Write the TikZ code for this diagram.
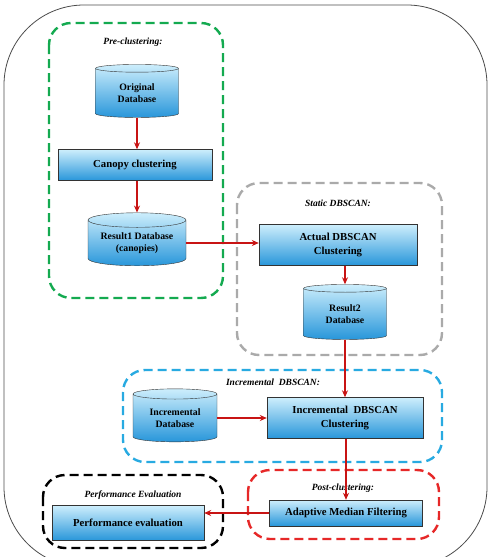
\documentclass[tikz,border=0pt]{standalone}
\usepackage{fontspec}
\setmainfont{Liberation Serif}
\usetikzlibrary{shapes.geometric,arrows.meta,positioning}

\definecolor{boxtop}{RGB}{205,238,252}
\definecolor{boxbot}{RGB}{40,150,218}
\definecolor{flowred}{RGB}{200,20,20}
\definecolor{framegreen}{RGB}{20,170,80}
\definecolor{frameblue}{RGB}{40,170,225}
\definecolor{framered}{RGB}{230,40,40}
\definecolor{framegray}{RGB}{170,170,170}

\begin{document}
\begin{tikzpicture}[
    x=1pt, y=-1pt,
    procbox/.style={rectangle, draw=black!80, top color=boxtop, bottom color=boxbot, align=center, inner sep=0pt, font=\fontsize{10.7}{14}\selectfont\bfseries},
    dbcyl/.style={cylinder, shape border rotate=90, aspect=0.2, draw=black!80, top color=boxtop, bottom color=boxbot, align=center, inner sep=0pt, font=\fontsize{9.8}{12.5}\selectfont\bfseries},
    grplabel/.style={font=\fontsize{9.5}{11}\selectfont\bfseries\itshape},
    grpframe/.style={dash pattern=on 9pt off 5pt, line width=2.4pt, rounded corners=22pt},
    flow/.style={draw=flowred, line width=1.2pt, -{Stealth[length=7pt,width=6pt]}}
  ]
    \useasboundingbox (0,0) rectangle (490,557);

    % Outer frame
    \begin{scope}
      \clip (0,0) rectangle (490,557);
      \draw[black!70, line width=0.8pt, rounded corners=80pt] (4,5) rectangle (487,567);
    \end{scope}

    % Stage frames
    \draw[grpframe, framegreen] (49,23) rectangle (223,298);
    \draw[grpframe, framegray] (237,183) rectangle (442,355);
    \draw[grpframe, frameblue] (123,370) rectangle (442,462);
    \draw[grpframe, framered] (248,470) rectangle (439,539);
    \draw[grpframe, black] (43,475) rectangle (223,548);

    \node[grplabel] (lpre) at (133,42) {Pre-clustering:};
    \node[grplabel] (lstat) at (338,203) {Static DBSCAN:};
    \node[grplabel] (linc) at (273,382) {Incremental\ \ DBSCAN:};
    \node[grplabel] (lpost) at (343,488) {Post-clustering:};
    \node[grplabel] (lperf) at (133,495) {Performance Evaluation};

    % Components
    \node[dbcyl, minimum width=83pt, minimum height=53pt] (odb) at (137,93) {Original\\Database};
    \node[procbox, minimum width=154pt, minimum height=31pt] (canopy) at (135,165) {Canopy clustering};
    \node[dbcyl, minimum width=98pt, minimum height=53pt] (res1) at (137,243) {Result1 Database\\(canopies)};
    \node[procbox, minimum width=158pt, minimum height=41pt] (actual) at (338,245) {Actual DBSCAN\\Clustering};
    \node[dbcyl, minimum width=83pt, minimum height=55pt] (res2) at (345,314) {Result2\\Database};
    \node[dbcyl, minimum width=84pt, minimum height=53pt] (incdb) at (175,418) {Incremental\\Database};
    \node[procbox, minimum width=156pt, minimum height=41pt] (incclu) at (345,418) {Incremental\ \ DBSCAN\\Clustering};
    \node[procbox, minimum width=153pt, minimum height=26pt] (median) at (346,513) {Adaptive Median Filtering};
    \node[procbox, minimum width=152pt, minimum height=35pt] (perf) at (128,523) {Performance evaluation};

    % Flow
    \draw[flow] (odb.south) -- (odb.south |- canopy.north);
    \draw[flow] (canopy.south -| res1.north) -- (res1.north);
    \draw[flow] (res1.east) -- (res1.east -| actual.west);
    \draw[flow] (res2.north |- actual.south) -- (res2.north);
    \draw[flow] (res2.south) -- (res2.south |- incclu.north);
    \draw[flow] (incdb.east) -- (incdb.east -| incclu.west);
    \draw[flow] (incclu.south -| median.north) -- (median.north);
    \draw[flow] (median.west) -- (median.west -| perf.east);
  \end{tikzpicture}
\end{document}
